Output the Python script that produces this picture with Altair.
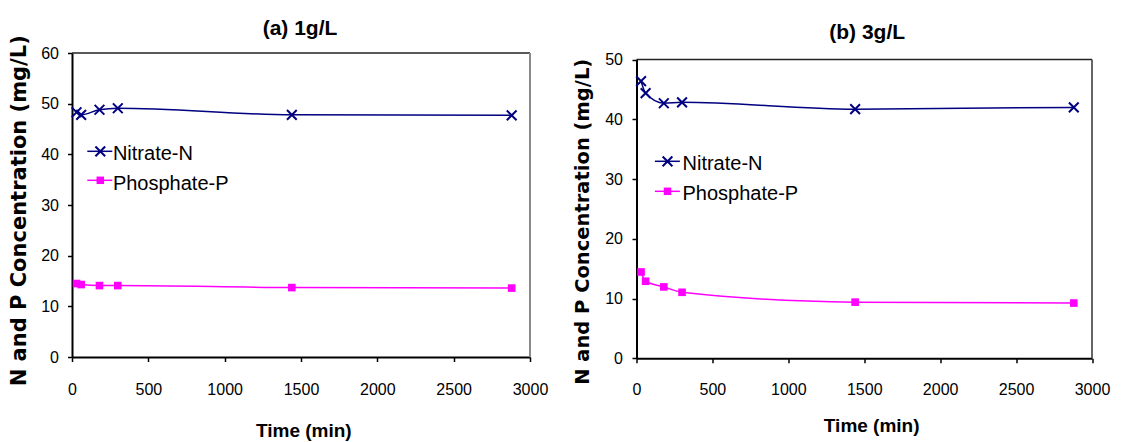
import altair as alt
import pandas as pd

# ---- data ----
time_min = [30, 60, 180, 300, 1440, 2880]
nitrate_1g = [48.3, 47.8, 48.8, 49.1, 47.8, 47.7]
phosphate_1g = [14.5, 14.3, 14.1, 14.1, 13.7, 13.6]
nitrate_3g = [46.4, 44.4, 42.7, 42.85, 41.7, 42.0]
phosphate_3g = [14.45, 12.9, 11.95, 11.05, 9.4, 9.25]
series_names = ["Nitrate-N", "Phosphate-P"]
x_ticks = [0, 500, 1000, 1500, 2000, 2500, 3000]
y_ticks_a = [0, 10, 20, 30, 40, 50, 60]
y_ticks_b = [0, 10, 20, 30, 40, 50]
panel_titles = ["(a) 1g/L", "(b) 3g/L"]
x_title = "Time (min)"
y_title = "N and P Concentration (mg/L)"

SANS = "Liberation Sans, Arial, sans-serif"
WIDE_BOLD = "DejaVu Sans"
NAVY = "#000080"
MAGENTA = "#FF00FF"
X_PATH = "M-1,-1L1,1M-1,1L1,-1"


def panel(title, nitrate, phosphate, ymax, yticks, w, h, top_gap,
          title_x, title_y, ytitle_size, ytitle_x, ytitle_y,
          xtitle_x, xtitle_y, xlab_pad, ylab_pad, right_border, leg):
    df = pd.DataFrame({
        "time": time_min + time_min,
        "conc": nitrate + phosphate,
        "series": [series_names[0]] * len(time_min) + [series_names[1]] * len(time_min),
    })
    xscale = alt.Scale(domain=[0, 3000], nice=False, zero=False)
    yscale = alt.Scale(domain=[0, ymax], nice=False, range=[h, top_gap])
    x = alt.X("time:Q", scale=xscale,
              axis=alt.Axis(values=x_ticks, format="d", title=x_title, labelPadding=xlab_pad,
                            labelFlush=False, labelOverlap=False,
                            titleX=xtitle_x, titleY=xtitle_y, titleBaseline="alphabetic",
                            titleFont=SANS, titleFontSize=19, titleFontWeight="bold"))
    y = alt.Y("conc:Q", scale=yscale,
              axis=alt.Axis(values=yticks, format="d", title=y_title, labelPadding=ylab_pad,
                            labelFlush=False, labelOverlap=False,
                            titleAngle=270, titleX=ytitle_x, titleY=ytitle_y,
                            titleBaseline="alphabetic", titleAlign="center",
                            titleFont=WIDE_BOLD, titleFontSize=ytitle_size,
                            titleFontWeight="bold"))
    base = alt.Chart(df)
    color = alt.Color("series:N", scale=alt.Scale(domain=series_names, range=[NAVY, MAGENTA]),
                      legend=None)
    lines = base.mark_line(strokeWidth=1.5, interpolate="monotone").encode(
        x=x, y=y, color=color, detail="series:N")
    nit_pts = base.transform_filter(alt.datum.series == series_names[0]).mark_point(
        shape=X_PATH, filled=False, color=NAVY, strokeWidth=2, size=95, opacity=1
    ).encode(x=x, y=y)
    pho_pts = base.transform_filter(alt.datum.series == series_names[1]).mark_square(
        size=58, color=MAGENTA, opacity=1
    ).encode(x=x, y=y)

    # plot frame: dark top edge, right edge
    fdf = pd.DataFrame({"series": series_names[:1]})
    top_edge = alt.Chart(fdf).mark_rule(color="#222222", strokeWidth=1.5).encode(
        x=alt.datum(0, scale=xscale), x2=alt.datum(3000), y=alt.datum(ymax, scale=yscale))
    right_edge = alt.Chart(fdf).mark_rule(color=right_border[0], strokeWidth=right_border[1]).encode(
        x=alt.datum(3000, scale=xscale), y=alt.datum(0, scale=yscale), y2=alt.datum(ymax))

    layers = [top_edge, right_edge, lines, nit_pts, pho_pts]
    x0, x1, xm, xt, ys, yt = leg
    colors = [NAVY, MAGENTA]
    for i, name in enumerate(series_names):
        ldf = pd.DataFrame({"series": [name]})
        lc = alt.Chart(ldf)
        layers.append(lc.mark_rule(color=colors[i], strokeWidth=1.5).encode(
            x=alt.value(x0), x2=alt.value(x1), y=alt.value(ys[i])))
        if i == 0:
            layers.append(lc.mark_point(shape=X_PATH, filled=False, color=NAVY,
                                        strokeWidth=2, size=95, opacity=1).encode(
                x=alt.value(xm), y=alt.value(ys[i])))
        else:
            layers.append(lc.mark_square(size=56, color=MAGENTA, opacity=1).encode(
                x=alt.value(xm), y=alt.value(ys[i])))
        layers.append(lc.mark_text(align="left", baseline="alphabetic", font=SANS,
                                   fontSize=20, color="black").encode(
            x=alt.value(xt), y=alt.value(yt[i]), text="series:N"))

    tdf = pd.DataFrame({"title": [title]})
    layers.append(alt.Chart(tdf).mark_text(align="center", baseline="alphabetic", font=SANS,
                                           fontSize=21, fontWeight="bold", color="black").encode(
        x=alt.value(title_x), y=alt.value(title_y), text="title:N"))

    return alt.layer(*layers).properties(width=w, height=h)


left = panel(panel_titles[0], nitrate_1g, phosphate_1g, 60, y_ticks_a, 458, 304, 0,
             228, -17.6, 21, -46.7, 157.3, 231.3, 79.9, 20, 9,
             ("#8a8a8a", 2),
             (15.3, 40.3, 28.3, 40.9, [98.3, 127.3], [107.3, 136.6]))
right = panel(panel_titles[1], nitrate_3g, phosphate_3g, 50, y_ticks_b, 455.5, 305.3, 6.6,
              230.7, -13.9, 19.5, -47.6, 168.3, 234.7, 73.6, 18.2, 9.5,
              ("#333333", 1.5),
              (18.4, 43.4, 31, 46, [108.3, 138.3], [116.6, 146.6]))

chart = alt.hconcat(left, right, spacing=24.5).properties(
    padding={"left": 8, "top": 18, "right": 5, "bottom": 0},
    background="white",
).configure_view(
    strokeWidth=0
).configure_axis(
    grid=False, domainColor="black", domainWidth=2, tickColor="black",
    tickWidth=1.5, tickSize=4.5, labelFont=SANS, labelFontSize=16,
    labelColor="black", titleColor="black"
)

chart.save("out.html", embed_options={"renderer": "svg", "actions": False})
